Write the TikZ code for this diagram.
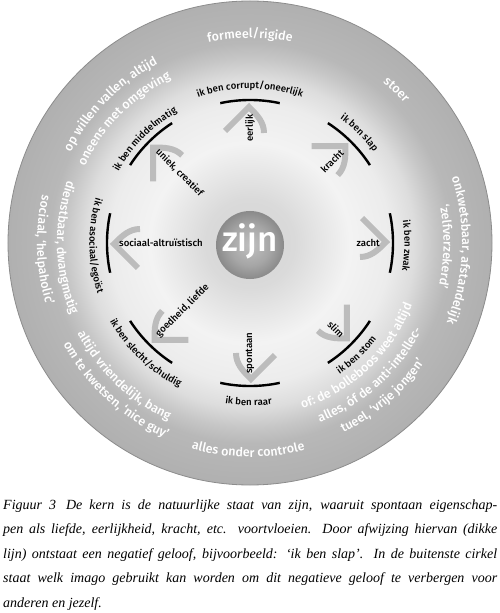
\documentclass[tikz,border=0pt]{standalone}
\usepackage{fontspec}
\setmainfont{Fira Sans}
\newfontfamily\labf{Fira Sans Medium}
\newfontfamily\capf{Liberation Serif}
\usetikzlibrary{decorations.text}

\definecolor{chevgray}{RGB}{188,188,188}
\definecolor{edgegray}{RGB}{140,140,140}
\definecolor{d0}{RGB}{212,212,212}
\definecolor{d1}{RGB}{218,218,218}
\definecolor{d2}{RGB}{243,243,243}
\definecolor{d3}{RGB}{236,236,236}
\definecolor{d4}{RGB}{221,221,221}
\definecolor{d5}{RGB}{198,198,198}
\definecolor{d6}{RGB}{184,184,184}
\definecolor{d7}{RGB}{176,176,176}
\definecolor{s0}{RGB}{192,192,192}
\definecolor{s1}{RGB}{166,166,166}
\definecolor{s2}{RGB}{138,138,138}

\pgfdeclareradialshading{disc}{\pgfpoint{0bp}{0bp}}{color(0bp)=(d0); color(4.6bp)=(d1); color(10.3bp)=(d2); color(14.5bp)=(d3); color(17bp)=(d4); color(19.1bp)=(d5); color(20.7bp)=(d6); color(25bp)=(d7); color(50bp)=(d7)}
\pgfdeclareradialshading{core}{\pgfpoint{0bp}{0bp}}{color(0bp)=(s0); color(15bp)=(s1); color(25bp)=(s2); color(50bp)=(s2)}

\newcommand{\blk}{\labf\fontsize{9.6}{11}\selectfont}
\newcommand{\wht}{\labf\fontsize{12.5}{14}\selectfont}

\newcommand{\cwtext}[5]{\path[decorate,decoration={text along path,text align=center,text color=#5,text={|#3|#4}}] ({#1+60}:#2) arc[start angle={#1+60},end angle={#1-60},radius=#2];}
\newcommand{\ccwtext}[5]{\path[decorate,decoration={text along path,text align=center,text color=#5,text={|#3|#4}}] ({#1-60}:#2) arc[start angle={#1-60},end angle={#1+60},radius=#2];}

\newcommand{\chevron}[1]{\begin{scope}[rotate=#1-90]
  \draw[chevstroke] (-25,112) -- (-1,136) .. controls (7,128) and (14,121) .. (14,110);
\end{scope}}
\newcommand{\negarc}[1]{\draw[negline] ({#1+12}:143) arc[start angle={#1+12},end angle={#1-12},radius=143];}
\newcommand{\capline}[1]{\makebox[494pt][s]{#1}}

\tikzset{
  lab/.style={font=\blk, inner sep=0pt},
  chevstroke/.style={line width=6pt, draw=chevgray, line join=miter},
  negline/.style={line width=2.4pt, draw=black},
  capt/.style={font=\capf\itshape\fontsize{14}{17}\selectfont, inner sep=0pt, anchor=base west},
}

\begin{document}
\begin{tikzpicture}[x=1pt,y=1pt]
\useasboundingbox (-250,-370) rectangle (250,243);
\fill[white] (-250,-370) rectangle (250,243);

% discs
\shade[shading=disc] (0,0) circle[radius=242];
\draw[edgegray, line width=0.8pt] (0,0) circle[radius=242];

% chevrons
\foreach \a in {90,45,0,-45,-90,-135,180,135} {\chevron{\a}}

% rejection arcs
\foreach \a in {90,45,0,-45,-90,-135,180,135} {\negarc{\a}}

% core
\node[circle, minimum size=68pt, inner sep=0pt, shading=core] (core) at (0,-2) {};
\node[anchor=base, text=white, inner sep=0pt, font=\labf\fontsize{35}{40}\selectfont] (zijn) at ([yshift=-7pt]core.center) {zijn};

% inner qualities
\node[lab, rotate=90, anchor=east] (eerlijk) at (90:129) {eerlijk};
\node[lab, rotate=45, anchor=east] (kracht) at (45:130) {kracht};
\node[lab, anchor=east] (zacht) at (0:130) {zacht};
\node[lab, rotate=-45, anchor=east] (slim) at (-45:131) {slim};
\node[lab, rotate=90, anchor=west] (spontaan) at (-90:131) {spontaan};
\node[lab, rotate=45, anchor=west] (goedheid) at (-135:131) {goedheid, liefde};
\node[lab, anchor=west] (sociaal) at (180:131) {sociaal-altruïstisch};
\node[lab, rotate=-45, anchor=west] (uniek) at (135:131) {uniek, creatief};

% negative beliefs
\cwtext{90}{154.5}{\blk}{ik ben corrupt/oneerlijk}{black}
\cwtext{45.2}{153.5}{\blk}{ik ben slap}{black}
\cwtext{-1}{154.5}{\blk}{ik ben zwak}{black}
\cwtext{135.3}{149.5}{\blk}{ik ben middelmatig}{black}
\ccwtext{-46.5}{159}{\blk}{ik ben stom}{black}
\ccwtext{-90.5}{162.5}{\blk}{ik ben raar}{black}
\ccwtext{-133.5}{160.5}{\blk}{ik ben slecht/schuldig}{black}
\ccwtext{181}{160.5}{\blk}{ik ben asociaal/egoïst}{black}

% outer imago texts
\cwtext{90}{205}{\wht}{formeel/rigide}{white}
\cwtext{46.3}{208.5}{\wht}{stoer}{white}
\cwtext{-2}{212}{\wht}{onkwetsbaar, afstandelijk}{white}
\cwtext{-1}{193.5}{\wht}{‘zelfverzekerd’}{white}
\ccwtext{-46.7}{173.5}{\wht}{of: de bolleboos weet altijd}{white}
\ccwtext{-47.8}{192.5}{\wht}{alles, óf de anti-intellec-}{white}
\ccwtext{-49.1}{211.5}{\wht}{tueel, ‘vrije jongen’}{white}
\ccwtext{-90.5}{214}{\wht}{alles onder controle}{white}
\ccwtext{-133.5}{195}{\wht}{altijd vriendelijk, bang}{white}
\ccwtext{-132.3}{212.5}{\wht}{om te kwetsen, ‘nice guy’}{white}
\ccwtext{181.5}{193}{\wht}{dienstbaar, dwangmatig}{white}
\ccwtext{182}{213}{\wht}{sociaal, ‘helpaholic’}{white}
\cwtext{135.2}{201}{\wht}{op willen vallen, altijd}{white}
\cwtext{135.4}{182}{\wht}{oneens met omgeving}{white}

% caption
\node[capt] (cap1) at (-247,-266) {\capline{Figuur 3\hspace{0.7em}De kern is de natuurlijke staat van zijn, waaruit spontaan eigenschap-}};
\node[capt] (cap2) at (-247,-290.5) {\capline{pen als liefde, eerlijkheid, kracht, etc. voortvloeien. Door afwijzing hiervan (dikke}};
\node[capt] (cap3) at (-247,-315) {\capline{lijn) ontstaat een negatief geloof, bijvoorbeeld: ‘ik ben slap’. In de buitenste cirkel}};
\node[capt] (cap4) at (-247,-339.5) {\capline{staat welk imago gebruikt kan worden om dit negatieve geloof te verbergen voor}};
\node[capt] (cap5) at (-247,-364) {anderen en jezelf.};
\end{tikzpicture}
\end{document}
